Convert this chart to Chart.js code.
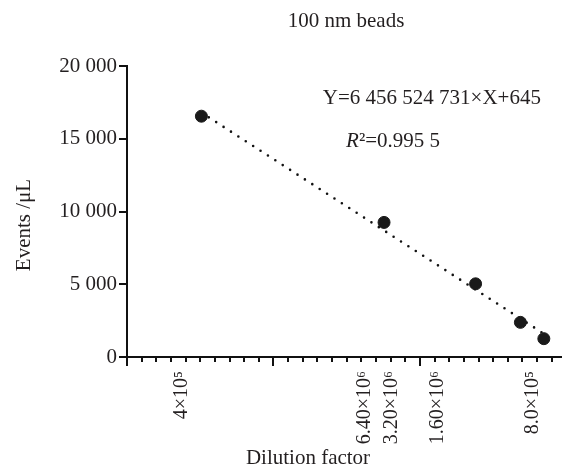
<!DOCTYPE html>
<html>
<head>
<meta charset="utf-8">
<script src="https://cdn.jsdelivr.net/npm/chart.js@4.4.0/dist/chart.umd.min.js"></script>
<style>
  html, body { margin: 0; padding: 0; background: #fff; }
  #wrap { width: 562px; height: 470px; }
</style>
</head>
<body>
<div id="wrap"><canvas id="chart" width="562" height="470"></canvas></div>
<script>
// values
const dilutionX = [5.08, 17.55, 23.8, 26.86, 28.46];
const eventsY = [16550, 9250, 5030, 2380, 1260];
const fitX = [5.08, 28.46];
const fitY = [16800, 1600];
const xTickPos = [3.75, 16.2, 18.1, 21.2, 27.7];
const xTickLabels = ["4×10⁵", "6.40×10⁶", "3.20×10⁶", "1.60×10⁶", "8.0×10⁵"];
const yTicks = [0, 5000, 10000, 15000, 20000];

const serif = "'Liberation Serif', 'DejaVu Serif', serif";
const ink = "#231f20";

function spaced(v) {
  return String(v).replace(/\B(?=(\d{3})+(?!\d))/g, " ");
}

// minor / major tick marks on the x axis + free text
const extras = {
  id: "extras",
  afterDraw(chart) {
    const ctx = chart.ctx;
    const xs = chart.scales.x;
    const ys = chart.scales.y;
    const area = chart.chartArea;
    ctx.save();
    ctx.strokeStyle = "#111";
    ctx.lineWidth = 2;
    for (let i = 0; i <= Math.floor(xs.max); i++) {
      const px = Math.round(xs.getPixelForValue(i));
      const len = i % 10 === 0 ? 9 : 5;
      ctx.beginPath();
      ctx.moveTo(px, area.bottom);
      ctx.lineTo(px, area.bottom + len);
      ctx.stroke();
    }

    ctx.fillStyle = ink;
    ctx.textBaseline = "middle";
    ctx.font = "21px " + serif;
    ctx.textAlign = "center";
    ctx.fillText("100 nm beads", 346, 21);
    ctx.fillText("Dilution factor", 308, 458);

    ctx.save();
    ctx.translate(24, 225);
    ctx.rotate(-Math.PI / 2);
    ctx.fillText("Events /μL", 0, 0);
    ctx.restore();

    ctx.textAlign = "left";
    ctx.fillText("Y=6 456 524 731×X+645", xs.getPixelForValue(13.37), ys.getPixelForValue(17740));

    let rx = xs.getPixelForValue(14.96);
    const ry = ys.getPixelForValue(14810);
    ctx.font = "italic 21px " + serif;
    ctx.fillText("R", rx, ry);
    rx += ctx.measureText("R").width;
    ctx.font = "21px " + serif;
    ctx.fillText("²=0.995 5", rx, ry);
    ctx.restore();
  }
};

new Chart(document.getElementById("chart"), {
  type: "scatter",
  data: {
    datasets: [
      {
        label: "fit",
        type: "line",
        data: fitX.map((x, i) => ({ x: x, y: fitY[i] })),
        borderColor: "#111",
        borderWidth: 2.6,
        borderDash: [0, 8.8],
        borderCapStyle: "round",
        pointRadius: 0,
        fill: false,
        order: 2,
      },
      {
        label: "beads",
        data: dilutionX.map((x, i) => ({ x: x, y: eventsY[i] })),
        backgroundColor: "#1a1a1a",
        borderColor: "#1a1a1a",
        pointRadius: 6,
        order: 1,
      },
    ],
  },
  options: {
    responsive: false,
    animation: false,
    layout: { autoPadding: false, padding: { top: 66, left: 0, right: 0, bottom: 0 } },
    plugins: {
      legend: { display: false },
      title: { display: false },
      tooltip: { enabled: false },
    },
    scales: {
      x: {
        type: "linear",
        min: 0,
        max: 29.7,
        afterFit: (scale) => {
          scale.height = 113;
          scale.paddingLeft = 0;
          scale.paddingRight = 0;
        },
        afterBuildTicks: (scale) => {
          scale.ticks = xTickPos.map((v) => ({ value: v }));
        },
        grid: { display: true, drawOnChartArea: false, tickLength: 8, tickColor: "rgba(0,0,0,0)" },
        border: { display: true, color: "#111", width: 2 },
        ticks: {
          autoSkip: false,
          minRotation: 90,
          maxRotation: 90,
          padding: 6,
          color: ink,
          font: { family: serif, size: 20 },
          callback: (v, i) => xTickLabels[i],
        },
      },
      y: {
        min: 0,
        max: 20000,
        afterFit: (scale) => { scale.width = 127; },
        afterBuildTicks: (scale) => {
          scale.ticks = yTicks.map((v) => ({ value: v }));
        },
        grid: { display: true, drawOnChartArea: false, tickLength: 8, color: "#111", lineWidth: 2 },
        border: { display: true, color: "#111", width: 2 },
        ticks: {
          padding: 2,
          color: ink,
          font: { family: serif, size: 21 },
          callback: (v) => spaced(v),
        },
      },
    },
  },
  plugins: [extras],
});
</script>
</body>
</html>
